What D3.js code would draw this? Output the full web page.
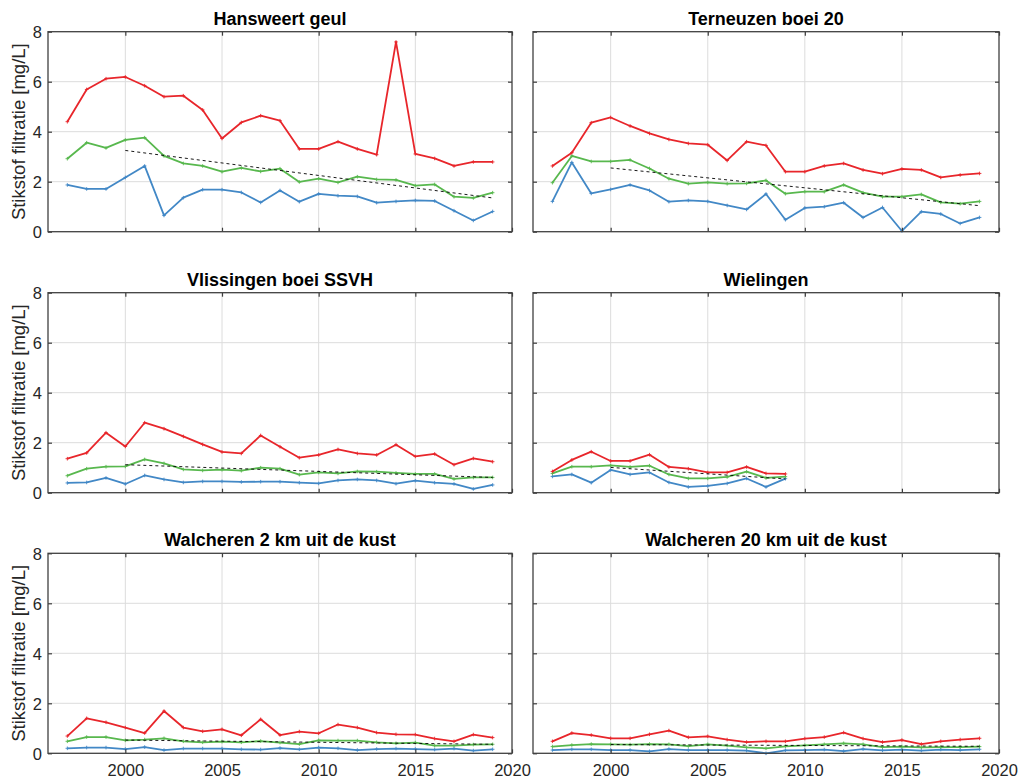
<!DOCTYPE html>
<html>
<head>
<meta charset="utf-8">
<script src="https://cdn.jsdelivr.net/npm/d3@7/dist/d3.min.js"></script>
<style>
  html, body { margin: 0; padding: 0; background: #ffffff; }
  svg { display: block; }
</style>
</head>
<body>
<svg id="chart" width="1020" height="780"></svg>
<script>
// ---------- DATA ----------
const years = [1997, 1998, 1999, 2000, 2001, 2002, 2003, 2004, 2005, 2006, 2007, 2008,
               2009, 2010, 2011, 2012, 2013, 2014, 2015, 2016, 2017, 2018, 2019];
const yearsWielingen = [1997, 1998, 1999, 2000, 2001, 2002, 2003, 2004, 2005, 2006, 2007, 2008, 2009];

const stationNames = ["Hansweert geul", "Terneuzen boei 20", "Vlissingen boei SSVH",
                      "Wielingen", "Walcheren 2 km uit de kust", "Walcheren 20 km uit de kust"];

const xTicks = [2000, 2005, 2010, 2015, 2020];
const yTicks = [0, 2, 4, 6, 8];
const yLabel = "Stikstof filtratie [mg/L]";

// Hansweert geul
const hansweertRed   = [4.40, 5.69, 6.12, 6.19, 5.84, 5.40, 5.44, 4.87, 3.73, 4.37, 4.64, 4.44, 3.31, 3.31, 3.60, 3.31, 3.08, 7.59, 3.11, 2.93, 2.63, 2.79, 2.79];
const hansweertGreen = [2.92, 3.56, 3.35, 3.67, 3.76, 3.03, 2.73, 2.63, 2.40, 2.55, 2.41, 2.52, 1.99, 2.12, 1.97, 2.20, 2.09, 2.07, 1.84, 1.89, 1.40, 1.35, 1.56];
const hansweertBlue  = [1.87, 1.71, 1.71, 2.17, 2.63, 0.65, 1.36, 1.68, 1.68, 1.57, 1.17, 1.65, 1.20, 1.51, 1.44, 1.41, 1.16, 1.21, 1.25, 1.23, 0.84, 0.45, 0.81];
const hansweertTrend = [3.25, 1.35];

// Terneuzen boei 20
const terneuzenRed   = [2.63, 3.16, 4.36, 4.57, 4.23, 3.93, 3.69, 3.53, 3.48, 2.85, 3.60, 3.45, 2.40, 2.40, 2.63, 2.73, 2.47, 2.32, 2.51, 2.47, 2.17, 2.27, 2.33];
const terneuzenGreen = [1.96, 3.03, 2.81, 2.81, 2.87, 2.53, 2.12, 1.92, 1.97, 1.92, 1.93, 2.05, 1.52, 1.60, 1.60, 1.87, 1.56, 1.40, 1.40, 1.49, 1.17, 1.12, 1.21];
const terneuzenBlue  = [1.21, 2.77, 1.53, 1.69, 1.87, 1.65, 1.20, 1.25, 1.21, 1.05, 0.89, 1.51, 0.48, 0.95, 1.00, 1.16, 0.57, 0.97, 0.03, 0.80, 0.71, 0.33, 0.57];
const terneuzenTrend = [2.55, 1.04];

// Vlissingen boei SSVH
const vlissingenRed   = [1.36, 1.59, 2.40, 1.85, 2.80, 2.56, 2.25, 1.93, 1.63, 1.57, 2.29, 1.84, 1.40, 1.51, 1.73, 1.57, 1.51, 1.92, 1.45, 1.55, 1.12, 1.37, 1.24];
const vlissingenGreen = [0.68, 0.96, 1.04, 1.05, 1.33, 1.17, 0.93, 0.89, 0.92, 0.88, 1.00, 0.96, 0.72, 0.81, 0.77, 0.85, 0.84, 0.79, 0.75, 0.75, 0.55, 0.61, 0.61];
const vlissingenBlue  = [0.39, 0.41, 0.59, 0.35, 0.69, 0.53, 0.41, 0.45, 0.45, 0.43, 0.44, 0.44, 0.40, 0.37, 0.49, 0.53, 0.49, 0.36, 0.48, 0.40, 0.35, 0.15, 0.31];
const vlissingenTrend = [1.12, 0.61];

// Wielingen (1997-2009)
const wielingenRed   = [0.85, 1.31, 1.64, 1.27, 1.27, 1.52, 1.03, 0.96, 0.81, 0.81, 1.03, 0.77, 0.75];
const wielingenGreen = [0.77, 1.04, 1.04, 1.09, 1.03, 1.08, 0.73, 0.57, 0.57, 0.63, 0.84, 0.59, 0.64];
const wielingenBlue  = [0.65, 0.73, 0.40, 0.91, 0.73, 0.81, 0.41, 0.23, 0.27, 0.37, 0.57, 0.23, 0.56];
const wielingenTrend = [1.01, 0.55];

// Walcheren 2 km uit de kust
const walcheren2Red   = [0.69, 1.40, 1.24, 1.03, 0.81, 1.69, 1.03, 0.88, 0.96, 0.72, 1.36, 0.73, 0.87, 0.80, 1.15, 1.03, 0.83, 0.76, 0.75, 0.59, 0.48, 0.75, 0.63];
const walcheren2Green = [0.48, 0.65, 0.65, 0.52, 0.55, 0.60, 0.48, 0.44, 0.47, 0.44, 0.49, 0.43, 0.37, 0.52, 0.51, 0.51, 0.44, 0.40, 0.43, 0.31, 0.31, 0.35, 0.36];
const walcheren2Blue  = [0.20, 0.23, 0.23, 0.17, 0.25, 0.13, 0.19, 0.19, 0.19, 0.16, 0.15, 0.21, 0.16, 0.23, 0.20, 0.13, 0.17, 0.19, 0.17, 0.15, 0.19, 0.11, 0.16];
const walcheren2Trend = [0.53, 0.36];

// Walcheren 20 km uit de kust
const walcheren20Red   = [0.48, 0.81, 0.73, 0.60, 0.60, 0.76, 0.91, 0.64, 0.68, 0.55, 0.45, 0.48, 0.48, 0.59, 0.65, 0.83, 0.59, 0.45, 0.53, 0.37, 0.48, 0.55, 0.60];
const walcheren20Green = [0.27, 0.33, 0.37, 0.36, 0.35, 0.37, 0.36, 0.29, 0.36, 0.31, 0.24, 0.20, 0.28, 0.32, 0.36, 0.40, 0.36, 0.25, 0.27, 0.24, 0.25, 0.25, 0.27];
const walcheren20Blue  = [0.13, 0.16, 0.16, 0.13, 0.13, 0.08, 0.17, 0.13, 0.13, 0.13, 0.11, 0.00, 0.12, 0.13, 0.15, 0.09, 0.17, 0.12, 0.15, 0.11, 0.15, 0.13, 0.16];
const walcheren20Trend = [0.35, 0.28];

// trend line year spans
const trendYears = [2000, 2019];
const trendYearsWielingen = [2000, 2009];

// ---------- BUILD PANEL TABLE ----------
const panels = [
  { name: stationNames[0], x: years, red: hansweertRed, green: hansweertGreen, blue: hansweertBlue, trend: hansweertTrend, tx: trendYears },
  { name: stationNames[1], x: years, red: terneuzenRed, green: terneuzenGreen, blue: terneuzenBlue, trend: terneuzenTrend, tx: trendYears },
  { name: stationNames[2], x: years, red: vlissingenRed, green: vlissingenGreen, blue: vlissingenBlue, trend: vlissingenTrend, tx: trendYears },
  { name: stationNames[3], x: yearsWielingen, red: wielingenRed, green: wielingenGreen, blue: wielingenBlue, trend: wielingenTrend, tx: trendYearsWielingen },
  { name: stationNames[4], x: years, red: walcheren2Red, green: walcheren2Green, blue: walcheren2Blue, trend: walcheren2Trend, tx: trendYears },
  { name: stationNames[5], x: years, red: walcheren20Red, green: walcheren20Green, blue: walcheren20Blue, trend: walcheren20Trend, tx: trendYears }
];

// ---------- LAYOUT ----------
const colX = [[48, 512], [533, 999]];
const rowY = [[31.7, 231.7], [292.7, 492.7], [553.3, 753.3]];

const COLORS = { red: "#e8262b", green: "#58b84e", blue: "#4288c6" };
const FONT = "'Liberation Sans', Arial, Helvetica, sans-serif";

const svg = d3.select("#chart");

panels.forEach((p, i) => {
  const col = i % 2, row = Math.floor(i / 2);
  const [x0, x1] = colX[col];
  const [y0, y1] = rowY[row];

  const x = d3.scaleLinear().domain([1996, 2020]).range([x0, x1]);
  const y = d3.scaleLinear().domain([0, 8]).range([y1, y0]);

  const g = svg.append("g");

  // grid
  g.append("g").selectAll("line.gx").data(xTicks.filter(t => t > 1996 && t < 2020))
    .join("line")
    .attr("x1", d => x(d)).attr("x2", d => x(d))
    .attr("y1", y0).attr("y2", y1)
    .attr("stroke", "#dcdcdc").attr("stroke-width", 1);
  g.append("g").selectAll("line.gy").data(yTicks.filter(t => t > 0 && t < 8))
    .join("line")
    .attr("x1", x0).attr("x2", x1)
    .attr("y1", d => y(d)).attr("y2", d => y(d))
    .attr("stroke", "#dcdcdc").attr("stroke-width", 1);

  // series
  const line = d3.line().x(d => x(d[0])).y(d => y(d[1]));
  ["blue", "green", "red"].forEach(key => {
    const pts = p.x.map((yr, k) => [yr, p[key][k]]);
    g.append("path")
      .datum(pts)
      .attr("d", line)
      .attr("fill", "none")
      .attr("stroke", COLORS[key])
      .attr("stroke-width", 1.8)
      .attr("stroke-linejoin", "round");
    // small plus markers
    const m = g.append("g");
    m.selectAll("path").data(pts).join("path")
      .attr("d", d => {
        const cx = x(d[0]), cy = y(d[1]), r = 1.8;
        return `M${cx - r},${cy}H${cx + r}M${cx},${cy - r}V${cy + r}`;
      })
      .attr("stroke", COLORS[key]).attr("stroke-width", 0.9);
  });

  // trend
  g.append("path")
    .datum(p.tx.map((yr, k) => [yr, p.trend[k]]))
    .attr("d", line)
    .attr("fill", "none")
    .attr("stroke", "#000")
    .attr("stroke-width", 0.9)
    .attr("stroke-dasharray", "3,3");

  // axes with inward ticks on all four sides
  const tickLen = 4;
  const axB = g.append("g").attr("transform", `translate(0,${y1})`)
    .call(d3.axisBottom(x).tickValues(xTicks).tickSizeInner(-tickLen).tickSizeOuter(0)
      .tickFormat(row === 2 ? d3.format("d") : () => ""));
  const axT = g.append("g").attr("transform", `translate(0,${y0})`)
    .call(d3.axisTop(x).tickValues(xTicks).tickSizeInner(-tickLen).tickSizeOuter(0).tickFormat(() => ""));
  const axL = g.append("g").attr("transform", `translate(${x0},0)`)
    .call(d3.axisLeft(y).tickValues(yTicks).tickSizeInner(-tickLen).tickSizeOuter(0)
      .tickFormat(col === 0 ? d3.format("d") : () => ""));
  const axR = g.append("g").attr("transform", `translate(${x1},0)`)
    .call(d3.axisRight(y).tickValues(yTicks).tickSizeInner(-tickLen).tickSizeOuter(0).tickFormat(() => ""));

  [axB, axT, axL, axR].forEach(a => {
    a.select(".domain").remove();
    a.selectAll(".tick line").attr("stroke", "#3c3c3c").attr("stroke-width", 1.2);
    a.selectAll(".tick text")
      .attr("font-family", FONT).attr("font-size", "16.5px").attr("fill", "#262626");
  });
  axB.selectAll(".tick text").attr("dy", "0").attr("y", 23);
  axL.selectAll(".tick text").attr("x", -6).attr("dy", "0.36em");

  // frame
  g.append("rect")
    .attr("x", x0).attr("y", y0)
    .attr("width", x1 - x0).attr("height", y1 - y0)
    .attr("fill", "none").attr("stroke", "#404040").attr("stroke-width", 1.3);

  // title
  g.append("text")
    .attr("x", (x0 + x1) / 2).attr("y", y0 - 7)
    .attr("text-anchor", "middle")
    .attr("font-family", FONT).attr("font-weight", "bold").attr("font-size", "18px")
    .attr("fill", "#000")
    .text(p.name);

  // y label
  if (col === 0) {
    g.append("text")
      .attr("transform", `translate(25,${(y0 + y1) / 2}) rotate(-90)`)
      .attr("text-anchor", "middle")
      .attr("font-family", FONT).attr("font-size", "18.5px")
      .attr("fill", "#262626")
      .text(yLabel);
  }
});
</script>
</body>
</html>
